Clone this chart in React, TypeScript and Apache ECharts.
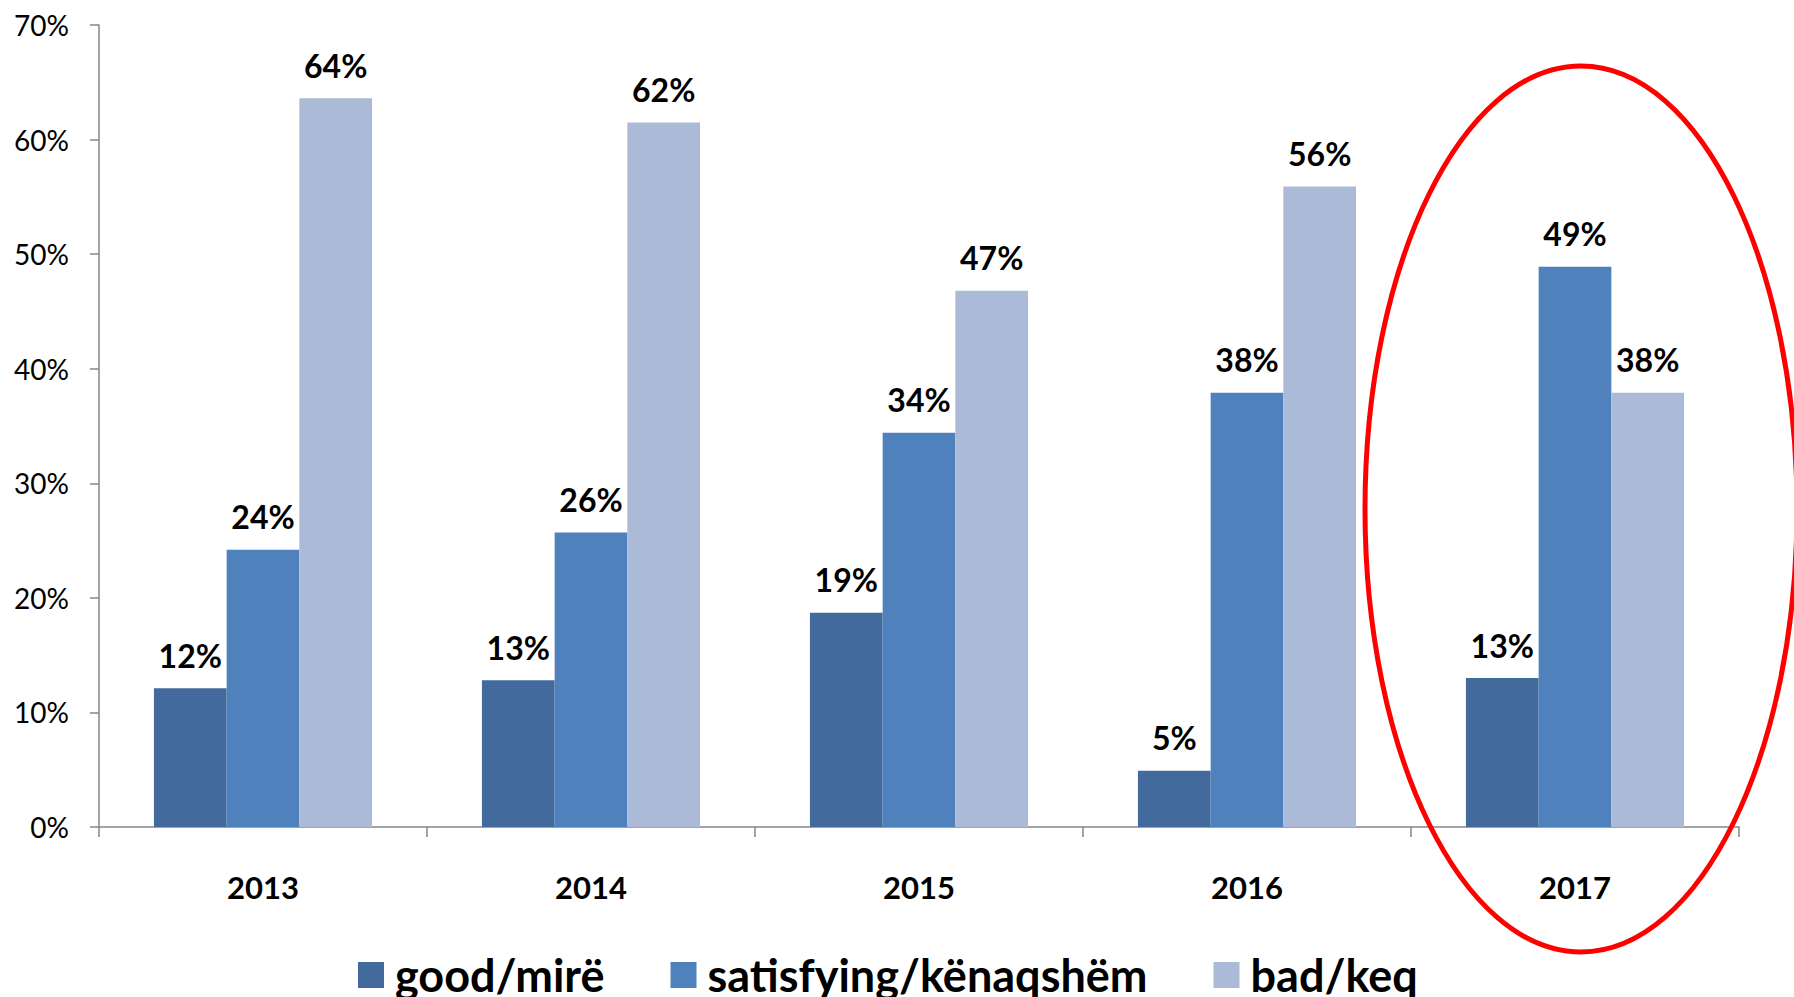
import React, { useEffect, useRef } from "react";
import * as echarts from "echarts";

const categories = ["2013", "2014", "2015", "2016", "2017"];
const seriesNames = ["good/mirë", "satisfying/kënaqshëm", "bad/keq"];
const goodValues = [12.1, 12.8, 18.7, 4.9, 13.0];
const satisfyingValues = [24.2, 25.7, 34.4, 37.9, 48.9];
const badValues = [63.6, 61.5, 46.8, 55.9, 37.9];
const yTicks = [0, 10, 20, 30, 40, 50, 60, 70];
const colors = ["#426A9C", "#4F81BD", "#ABBAD7"];

const FONT = "Lato";

export default function App() {
  const ref = useRef<HTMLDivElement>(null);
  useEffect(() => {
    if (!ref.current) return;
    const chart = echarts.init(ref.current, undefined, { renderer: "svg" });
    const dataSets = [goodValues, satisfyingValues, badValues];
    chart.setOption({
      animation: false,
      backgroundColor: "#ffffff",
      textStyle: { fontFamily: FONT },
      grid: { left: 99, right: 55, top: 25, bottom: 170, containLabel: false },
      legend: {
        data: seriesNames,
        left: 353,
        top: 945,
        itemWidth: 26,
        itemHeight: 26,
        itemGap: 66,
        icon: "rect",
        textStyle: {
          fontFamily: FONT,
          fontSize: 45,
          fontWeight: "bold",
          color: "#000",
          lineHeight: 50,
          padding: [0, 0, 0, 6],
        },
      },
      xAxis: {
        type: "category",
        data: categories,
        axisLine: { show: true, lineStyle: { color: "#868686", width: 1.5 } },
        axisTick: { show: true, length: 10, inside: false, lineStyle: { color: "#868686", width: 1.5 } },
        axisLabel: {
          margin: 44,
          fontFamily: FONT,
          fontSize: 31,
          fontWeight: "bold",
          color: "#000",
        },
        splitLine: { show: false },
      },
      yAxis: {
        type: "value",
        min: yTicks[0],
        max: yTicks[yTicks.length - 1],
        interval: 10,
        axisLine: { show: true, lineStyle: { color: "#868686", width: 1.5 } },
        axisTick: { show: true, length: 9, lineStyle: { color: "#868686", width: 1.5 } },
        axisLabel: {
          margin: 30,
          fontFamily: FONT,
          fontSize: 28,
          color: "#000",
          formatter: (v: number) => `${v}%`,
        },
        splitLine: { show: false },
      },
      series: seriesNames.map((name, i) => ({
        name,
        type: "bar",
        data: dataSets[i],
        barGap: "0%",
        barCategoryGap: "33.5%",
        itemStyle: { color: colors[i] },
        label: {
          show: true,
          position: "top",
          distance: 17,
          fontFamily: FONT,
          fontSize: 32,
          fontWeight: "bold",
          color: "#000",
          formatter: (p: any) => `${Math.round(p.value)}%`,
        },
      })),
      graphic: [
        {
          type: "ellipse",
          shape: { cx: 1581, cy: 509, rx: 216, ry: 443 },
          style: { fill: "none", stroke: "#FF0000", lineWidth: 5 },
          z: 100,
        },
      ],
    });
    return () => chart.dispose();
  }, []);
  return (
    <div
      ref={ref}
      style={{ position: "fixed", left: 0, top: 0, width: 1794, height: 997, background: "#fff" }}
    />
  );
}
